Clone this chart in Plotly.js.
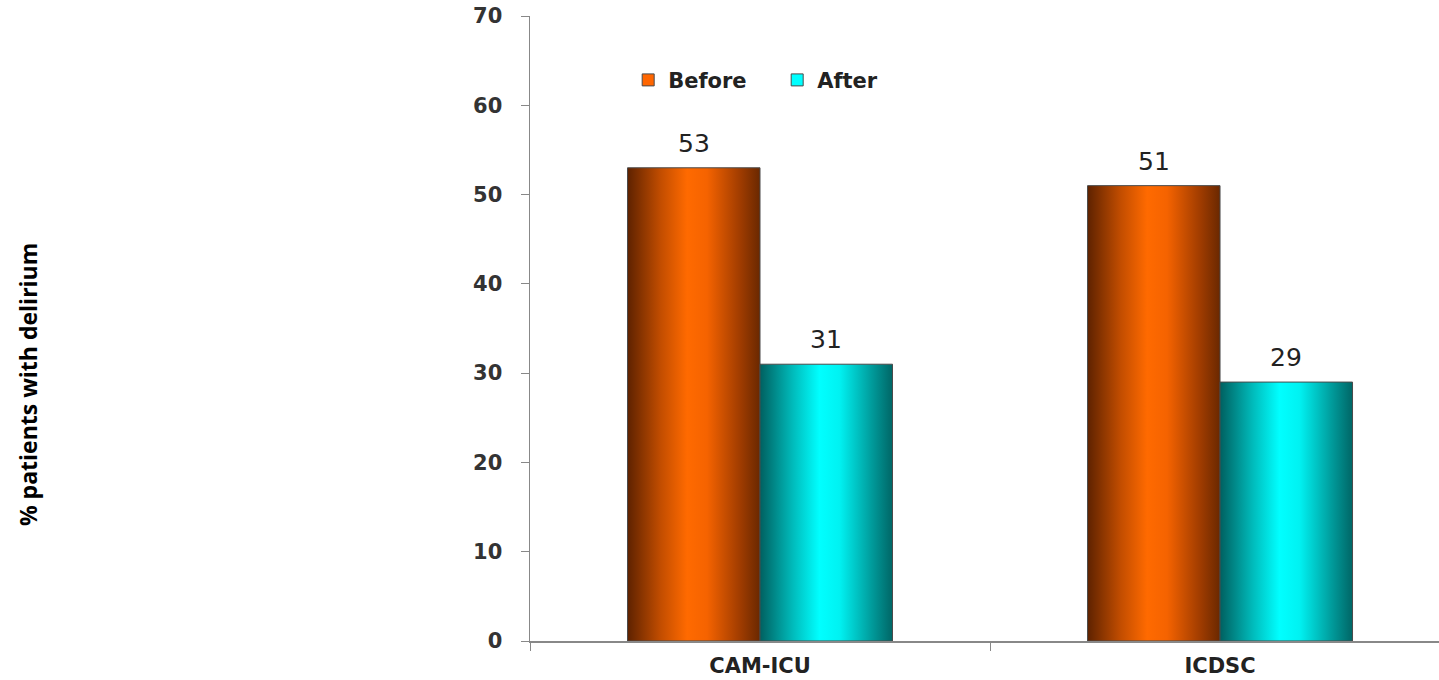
<!DOCTYPE html>
<html>
<head>
<meta charset="utf-8">
<script src="https://cdn.plot.ly/plotly-3.0.1.min.js"></script>
<style>
  html, body { margin: 0; padding: 0; background: #fff; }
</style>
</head>
<body>
<div id="chart"></div>
<script>
const categories = ["CAM-ICU", "ICDSC"];
const seriesNames = ["Before", "After"];
const before = [53, 51];
const after = [31, 29];
const yTicks = [0, 10, 20, 30, 40, 50, 60, 70];
const yTitle = "% patients with delirium";

const W = 1439, H = 680;
const barColors = ["#ff6600", "#00ffff"];
const barOffsets = [-66, 66]; // px, half a bar width to either side of the category
const wideFont = "DejaVu Sans, Verdana, sans-serif";

var values = [before, after];
var data = seriesNames.map((name, s) => ({
  type: "bar",
  name: name,
  x: categories,
  y: values[s],
  marker: { color: barColors[s], line: { color: "#4a4a4a", width: 1 } },
  hoverinfo: "none"
}));

// value labels above each bar
var annotations = [];
values.forEach((vals, s) => {
  vals.forEach((v, i) => {
    annotations.push({
      x: categories[i], y: v,
      xref: "x", yref: "y",
      xshift: barOffsets[s], yshift: 8,
      yanchor: "bottom",
      text: String(v),
      showarrow: false,
      font: { family: wideFont, size: 25, color: "#222" }
    });
  });
});

// y axis title sits lower than the plot centre, so it is an annotation
annotations.push({
  xref: "paper", yref: "paper",
  x: -0.553, y: 0.41,
  xanchor: "center", yanchor: "middle",
  textangle: -90,
  text: yTitle,
  showarrow: false,
  font: { family: "Open Sans, sans-serif", size: 23, color: "#000", weight: "bold" }
});

var layout = {
  autosize: false,
  width: W,
  height: H,
  margin: { l: 530, r: 0, t: 16, b: 39 },
  paper_bgcolor: "#fff",
  plot_bgcolor: "#fff",
  barmode: "group",
  bargap: 0.424,
  bargroupgap: 0,
  hovermode: false,
  showlegend: true,
  legend: {
    orientation: "h",
    x: 0.108, xanchor: "left",
    y: 0.93, yanchor: "top",
    font: { family: wideFont, size: 21, color: "#222", weight: "bold" },
    bgcolor: "rgba(0,0,0,0)",
    entrywidth: 104,
    itemwidth: 30
  },
  xaxis: {
    range: [-0.5, 1.476],
    showline: true, linecolor: "#888", linewidth: 1.5,
    ticks: "outside", tickson: "boundaries", ticklen: 8, tickcolor: "#888",
    showgrid: false, zeroline: false,
    ticklabelstandoff: 5,
    tickfont: { family: wideFont, size: 21, color: "#222", weight: "bold" },
    fixedrange: true
  },
  yaxis: {
    range: [0, 70],
    tickvals: yTicks,
    showline: true, linecolor: "#888", linewidth: 1.5,
    ticks: "outside", ticklen: 8, tickcolor: "#888",
    showgrid: false, zeroline: false,
    ticklabelstandoff: 14,
    tickfont: { family: wideFont, size: 21, color: "#333", weight: "bold" },
    fixedrange: true
  },
  annotations: annotations
};

Plotly.newPlot("chart", data, layout, { displayModeBar: false, staticPlot: true }).then(function (gd) {
  // shaded cylinder look: horizontal gradient on every bar
  var svg = gd.querySelector("svg.main-svg");
  var ns = "http://www.w3.org/2000/svg";
  var defs = svg.querySelector("defs") || svg.insertBefore(document.createElementNS(ns, "defs"), svg.firstChild);
  var grads = [
    { id: "gradBefore", stops: [[0, "#5e2200"], [0.25, "#c24d00"], [0.45, "#ff6a00"], [0.6, "#f56300"], [0.85, "#a03c00"], [1, "#6a2800"]] },
    { id: "gradAfter", stops: [[0, "#006060"], [0.25, "#00bcbc"], [0.45, "#00ffff"], [0.6, "#00f2f2"], [0.85, "#009999"], [1, "#006666"]] }
  ];
  grads.forEach(g => {
    var lg = document.createElementNS(ns, "linearGradient");
    lg.setAttribute("id", g.id);
    lg.setAttribute("x1", "0"); lg.setAttribute("y1", "0");
    lg.setAttribute("x2", "1"); lg.setAttribute("y2", "0");
    g.stops.forEach(st => {
      var stop = document.createElementNS(ns, "stop");
      stop.setAttribute("offset", st[0]);
      stop.setAttribute("stop-color", st[1]);
      lg.appendChild(stop);
    });
    defs.appendChild(lg);
  });
  var traces = gd.querySelectorAll(".barlayer .trace");
  traces.forEach((t, s) => {
    t.querySelectorAll("path").forEach(p => { p.style.fill = "url(#" + grads[s].id + ")"; });
  });
});
</script>
</body>
</html>
